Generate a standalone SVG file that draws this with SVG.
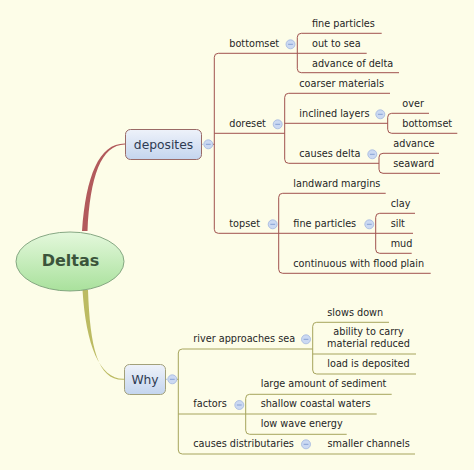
<svg xmlns="http://www.w3.org/2000/svg" width="474" height="470" viewBox="0 0 474 470">
<defs>
<linearGradient id="gBox" x1="0" y1="0" x2="0" y2="1">
<stop offset="0" stop-color="#eef2fa"/>
<stop offset="1" stop-color="#c4d5ee"/>
</linearGradient>
<linearGradient id="gRoot" x1="0" y1="0" x2="0" y2="1">
<stop offset="0" stop-color="#e4f8dc"/>
<stop offset="1" stop-color="#a9e19c"/>
</linearGradient>
<g id="minus">
<circle r="4.5" fill="#cbd9f2" stroke="#a3b8de" stroke-width="0.8"/>
<line x1="-2.4" y1="0" x2="2.4" y2="0" stroke="#7f9bd0" stroke-width="0.9"/>
</g>
</defs>
<style>
text{font-family:"DejaVu Sans","Liberation Sans",sans-serif;font-size:9.7px;fill:#262626}
.main{font-size:12.3px;fill:#2e3b52;text-anchor:middle}
.root{font-size:16px;font-weight:bold;fill:#3b543b;text-anchor:middle}
.r{fill:none;stroke:#a1524e;stroke-width:1}
.o{fill:none;stroke:#a6a45c;stroke-width:1}
.dash{fill:none;stroke:#a9bee2;stroke-width:1;stroke-dasharray:1.5 1}
.box{fill:url(#gBox);stroke-width:1}
</style>
<rect width="474" height="470" fill="#fdfde8"/>

<g id="connectors">
<path d="M82,231 C86,176 99,143.4 125,143.6 L125,144.6 C101,145 90,177 87.5,231 Z" fill="#b25a5c"/>
<path d="M82.5,290 C86,346 100,379.6 124,378.8 L124,379.8 C98,381 90,348 88,290 Z" fill="#bcbb62"/>
<line class="dash" x1="201.5" y1="144.3" x2="204" y2="144.3"/>
<line class="r" x1="212.8" y1="144.3" x2="214.3" y2="144.3"/>
<line class="dash" x1="165.5" y1="379.3" x2="168" y2="379.3"/>
<line class="o" x1="176.8" y1="379.3" x2="178.3" y2="379.3"/>
<!-- deposites spine -->
<path class="r" d="M218.3,53.3 Q214.3,53.3 214.3,57.3 V229.3 Q214.3,233.3 218.3,233.3"/>
<path class="r" d="M218.3,53.3 H297.3"/>
<path class="r" d="M214.3,133.3 H284.7"/>
<path class="r" d="M218.3,233.3 H278.7"/>
<!-- bottomset -->
<path class="r" d="M301.3,33.3 Q297.3,33.3 297.3,37.3 V68.7 Q297.3,72.7 301.3,72.7"/>
<path class="r" d="M301.3,33.3 H381.7"/>
<path class="r" d="M297.3,53.3 H366.7"/>
<path class="r" d="M301.3,72.7 H399"/>
<!-- doreset -->
<path class="r" d="M288.7,93.3 Q284.7,93.3 284.7,97.3 V159.3 Q284.7,163.3 288.7,163.3"/>
<path class="r" d="M288.7,93.3 H390"/>
<path class="r" d="M284.7,123.3 H387.7"/>
<path class="r" d="M288.7,163.3 H379"/>
<path class="r" d="M391.7,113.3 Q387.7,113.3 387.7,117.3 V129.3 Q387.7,133.3 391.7,133.3"/>
<path class="r" d="M391.7,113.3 H429"/>
<path class="r" d="M391.7,133.3 H457.3"/>
<path class="r" d="M383,153.3 Q379,153.3 379,157.3 V169.3 Q379,173.3 383,173.3"/>
<path class="r" d="M383,153.3 H439"/>
<path class="r" d="M383,173.3 H440"/>
<!-- topset -->
<path class="r" d="M282.7,193.3 Q278.7,193.3 278.7,197.3 V269.3 Q278.7,273.3 282.7,273.3"/>
<path class="r" d="M282.7,193.3 H385.7"/>
<path class="r" d="M278.7,233.3 H375.7"/>
<path class="r" d="M282.7,273.3 H430.7"/>
<path class="r" d="M379.7,213.3 Q375.7,213.3 375.7,217.3 V249.3 Q375.7,253.3 379.7,253.3"/>
<path class="r" d="M379.7,213.3 H415"/>
<path class="r" d="M375.7,233.3 H413"/>
<path class="r" d="M379.7,253.3 H411.7"/>
<!-- why spine -->
<path class="o" d="M182.3,349 Q178.3,349 178.3,353 V450 Q178.3,454 182.3,454"/>
<path class="o" d="M182.3,349 H312.7"/>
<path class="o" d="M178.3,414 H245.7"/>
<path class="o" d="M182.3,454 H415"/>
<path class="o" d="M316.7,322.3 Q312.7,322.3 312.7,326.3 V370 Q312.7,374 316.7,374"/>
<path class="o" d="M316.7,322.3 H389"/>
<path class="o" d="M312.7,354 H416"/>
<path class="o" d="M316.7,374 H416"/>
<path class="o" d="M249.7,394.3 Q245.7,394.3 245.7,398.3 V430.3 Q245.7,434.3 249.7,434.3"/>
<path class="o" d="M249.7,394.3 H391.7"/>
<path class="o" d="M245.7,414 H376.7"/>
<path class="o" d="M249.7,434.3 H346.7"/>
</g>

<g id="root">
<ellipse cx="70" cy="261.5" rx="54" ry="29.5" fill="url(#gRoot)" stroke="#7b9e78" stroke-width="0.9"/>
<text class="root" x="70.5" y="266">Deltas</text>
</g>

<g id="deposites">
<rect class="box" x="125.5" y="129.5" width="76" height="30" rx="5" stroke="#9a6a66"/>
<text class="main" x="163.5" y="149">deposites</text>
<use href="#minus" x="208.3" y="144.3"/>
</g>
<g id="why">
<rect class="box" x="124.5" y="364.5" width="41" height="30" rx="5" stroke="#a2a07a"/>
<text class="main" x="145" y="383.5">Why</text>
<use href="#minus" x="172.3" y="379.3"/>
</g>

<g id="bottomset"><text x="229.3" y="47">bottomset</text><use href="#minus" x="290.5" y="44.3"/></g>
<g id="fine-particles-1"><text x="312" y="27.3">fine particles</text></g>
<g id="out-to-sea"><text x="312" y="47.3">out to sea</text></g>
<g id="advance-of-delta"><text x="312" y="66.7">advance of delta</text></g>

<g id="doreset"><text x="229.3" y="127.3">doreset</text><use href="#minus" x="277.7" y="124.3"/></g>
<g id="coarser-materials"><text x="299.3" y="87.3">coarser materials</text></g>
<g id="inclined-layers"><text x="299.3" y="117.3">inclined layers</text><use href="#minus" x="380.3" y="114.3"/></g>
<g id="over"><text x="402.3" y="107.3">over</text></g>
<g id="bottomset-2"><text x="402.3" y="127.3">bottomset</text></g>
<g id="causes-delta"><text x="299.3" y="157.3">causes delta</text><use href="#minus" x="372.3" y="154.3"/></g>
<g id="advance"><text x="393.3" y="147.3">advance</text></g>
<g id="seaward"><text x="393.3" y="167.3">seaward</text></g>

<g id="topset"><text x="229.3" y="227.3">topset</text><use href="#minus" x="272.7" y="224.3"/></g>
<g id="landward-margins"><text x="293.3" y="187.3">landward margins</text></g>
<g id="fine-particles-2"><text x="293.3" y="227.3">fine particles</text><use href="#minus" x="369.3" y="224.3"/></g>
<g id="clay"><text x="390.7" y="207.3">clay</text></g>
<g id="silt"><text x="390.7" y="227.3">silt</text></g>
<g id="mud"><text x="390.7" y="247.3">mud</text></g>
<g id="continuous"><text x="293.3" y="267.3">continuous with flood plain</text></g>

<g id="river-approaches-sea"><text x="193.3" y="341.7">river approaches sea</text><use href="#minus" x="306" y="339.3"/></g>
<g id="slows-down"><text x="327.3" y="315.7">slows down</text></g>
<g id="ability"><text x="368.5" y="335.3" text-anchor="middle">ability to carry</text><text x="368.5" y="346.7" text-anchor="middle">material reduced</text></g>
<g id="load-is-deposited"><text x="327.3" y="366.7">load is deposited</text></g>
<g id="factors"><text x="193.3" y="407.3">factors</text><use href="#minus" x="239.3" y="405"/></g>
<g id="large-amount"><text x="260.7" y="387.3">large amount of sediment</text></g>
<g id="shallow"><text x="260.7" y="407.3">shallow coastal waters</text></g>
<g id="low-wave"><text x="260.7" y="427.3">low wave energy</text></g>
<g id="causes-distributaries"><text x="193.3" y="447.3">causes distributaries</text><use href="#minus" x="306" y="444.3"/></g>
<g id="smaller-channels"><text x="327.5" y="447.3">smaller channels</text></g>
</svg>
